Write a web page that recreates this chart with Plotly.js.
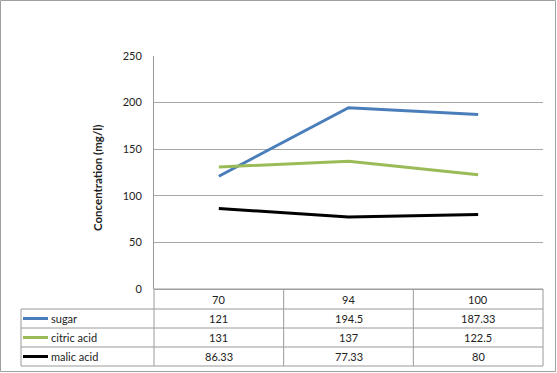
<!DOCTYPE html>
<html>
<head>
<meta charset="utf-8">
<script src="https://cdn.plot.ly/plotly-3.0.1.min.js"></script>
<style>html,body{margin:0;padding:0;background:#fff;}#chart{width:557px;height:373px;}</style>
</head>
<body>
<div id="chart"></div>
<script>
// ---- data ----
var categories = ['70', '94', '100'];
var seriesNames = ['sugar', 'citric acid', 'malic acid'];
var sugar = [121, 194.5, 187.33];
var citricAcid = [131, 137, 122.5];
var malicAcid = [86.33, 77.33, 80];
var sugarLabels = ['121', '194.5', '187.33'];
var citricLabels = ['131', '137', '122.5'];
var malicLabels = ['86.33', '77.33', '80'];
var yTicks = [0, 50, 100, 150, 200, 250];

// ---- layout geometry (pixels) ----
var W = 557, H = 373;
var L = 154, R = 543, T = 56, B = 289;
function px(X) { return (X - L) / (R - L); }
function py(Y) { return (B - Y) / (B - T); }
var rowLines = [289, 309, 328, 347, 366];
var tableLeft = 21;
var colors = ['#4a7ebb', '#9bbb59', '#000000'];
var gridColor = '#a8a8a8';
var tableColor = '#9a9a9a';
var font = 'Lato, "Open Sans", sans-serif';
var textColor = '#222222';

var seriesValues = [sugar, citricAcid, malicAcid];
var seriesLabels = [sugarLabels, citricLabels, malicLabels];

var traces = seriesValues.map(function (vals, i) {
  return {
    x: categories, y: vals, type: 'scatter', mode: 'lines',
    name: seriesNames[i],
    line: { color: colors[i], width: 3 },
    hoverinfo: 'skip'
  };
});

var shapes = [];
var annotations = [];

// outer border
shapes.push({ type: 'rect', xref: 'paper', yref: 'paper',
  x0: px(0.5), x1: px(555.5), y0: py(0.5), y1: py(371.5),
  line: { color: '#a0a0a0', width: 1 } });

// table horizontal lines
rowLines.forEach(function (Y, k) {
  shapes.push({ type: 'line', xref: 'paper', yref: 'paper',
    x0: k === 0 ? px(L) : px(tableLeft), x1: 1, y0: py(Y), y1: py(Y),
    line: { color: tableColor, width: 1 } });
});
// table vertical lines
shapes.push({ type: 'line', xref: 'paper', yref: 'paper',
  x0: px(tableLeft), x1: px(tableLeft), y0: py(rowLines[1]), y1: py(rowLines[4]),
  line: { color: tableColor, width: 1 } });
shapes.push({ type: 'line', xref: 'paper', yref: 'paper',
  x0: 0, x1: 0, y0: py(rowLines[0]), y1: py(rowLines[4]),
  line: { color: tableColor, width: 1 } });
shapes.push({ type: 'line', xref: 'paper', yref: 'paper',
  x0: 1, x1: 1, y0: py(rowLines[0]), y1: py(rowLines[4]),
  line: { color: tableColor, width: 1 } });
for (var c = 0; c < categories.length - 1; c++) {
  shapes.push({ type: 'line', xref: 'x', yref: 'paper',
    x0: c + 0.5, x1: c + 0.5, y0: py(rowLines[0]), y1: py(rowLines[4]),
    line: { color: tableColor, width: 1 } });
}

// header row (categories)
categories.forEach(function (cat, j) {
  annotations.push({ xref: 'x', yref: 'paper', x: j,
    y: py((rowLines[0] + rowLines[1]) / 2), text: cat, showarrow: false,
    font: { family: font, size: 11, color: textColor }, xanchor: 'center', yanchor: 'middle' });
});

// series rows
seriesNames.forEach(function (nm, i) {
  var mid = (rowLines[i + 1] + rowLines[i + 2]) / 2;
  shapes.push({ type: 'line', xref: 'paper', yref: 'paper',
    x0: px(23), x1: px(48), y0: py(mid), y1: py(mid),
    line: { color: colors[i], width: 3 } });
  annotations.push({ xref: 'paper', yref: 'paper', x: px(49), y: py(mid),
    text: nm, showarrow: false, xanchor: 'left', yanchor: 'middle',
    font: { family: font, size: 11, color: textColor } });
  seriesLabels[i].forEach(function (lab, j) {
    annotations.push({ xref: 'x', yref: 'paper', x: j, y: py(mid), text: lab,
      showarrow: false, xanchor: 'center', yanchor: 'middle',
      font: { family: font, size: 11, color: textColor } });
  });
});

// y-axis title
annotations.push({ xref: 'paper', yref: 'paper', x: px(97), y: py(178),
  text: '<b>Concentration (mg/l)</b>', textangle: -90, showarrow: false,
  xanchor: 'center', yanchor: 'middle',
  font: { family: font, size: 11.5, color: textColor } });

var layout = {
  width: W, height: H,
  margin: { l: L, r: W - R, t: T, b: H - B, pad: 0 },
  paper_bgcolor: '#ffffff', plot_bgcolor: '#ffffff',
  showlegend: false,
  xaxis: { type: 'category', range: [-0.5, categories.length - 0.5],
    showgrid: false, showticklabels: false, zeroline: false, showline: false, fixedrange: true },
  yaxis: { range: [0, 250], tickvals: yTicks, ticktext: yTicks.map(String),
    showgrid: true, gridcolor: gridColor, gridwidth: 1,
    zeroline: true, zerolinecolor: gridColor, zerolinewidth: 1,
    showline: true, linecolor: tableColor, linewidth: 1,
    ticks: 'outside', ticklen: 9, tickcolor: 'rgba(0,0,0,0)',
    tickfont: { family: font, size: 11, color: textColor }, fixedrange: true },
  shapes: shapes,
  annotations: annotations
};

Plotly.newPlot('chart', traces, layout, { displayModeBar: false, staticPlot: true });
</script>
</body>
</html>
